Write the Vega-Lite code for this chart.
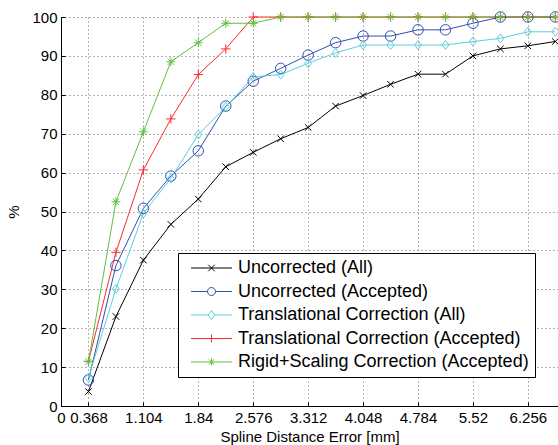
{
  "$schema": "https://vega.github.io/schema/vega-lite/v6.json",
  "autosize": "none",
  "padding": {"left": 61, "top": 17, "right": 0, "bottom": 39},
  "width": 497,
  "height": 389,
  "background": "white",
  "config": {
    "font": "Liberation Sans",
    "view": {"stroke": null},
    "axis": {
      "labelFont": "Liberation Sans",
      "labelFontSize": 15,
      "labelColor": "#000",
      "labelFlush": false,
      "labelOverlap": false,
      "titleFont": "Liberation Sans",
      "titleFontSize": 15,
      "titleFontWeight": "normal",
      "titleColor": "#000",
      "domainColor": "#000",
      "domainWidth": 1,
      "tickColor": "#000",
      "tickSize": -4,
      "labelPadding": 8,
      "grid": true,
      "gridColor": "#666",
      "gridDash": [1, 3],
      "gridWidth": 1
    }
  },
  "data": {
    "values": [
      {"x": 0.368, "y": 3.7, "s": "Uncorrected (All)"},
      {"x": 0.736, "y": 23.0, "s": "Uncorrected (All)"},
      {"x": 1.104, "y": 37.5, "s": "Uncorrected (All)"},
      {"x": 1.472, "y": 46.7, "s": "Uncorrected (All)"},
      {"x": 1.84, "y": 53.2, "s": "Uncorrected (All)"},
      {"x": 2.208, "y": 61.5, "s": "Uncorrected (All)"},
      {"x": 2.576, "y": 65.2, "s": "Uncorrected (All)"},
      {"x": 2.944, "y": 68.7, "s": "Uncorrected (All)"},
      {"x": 3.312, "y": 71.6, "s": "Uncorrected (All)"},
      {"x": 3.68, "y": 77.1, "s": "Uncorrected (All)"},
      {"x": 4.048, "y": 79.8, "s": "Uncorrected (All)"},
      {"x": 4.416, "y": 82.7, "s": "Uncorrected (All)"},
      {"x": 4.784, "y": 85.3, "s": "Uncorrected (All)"},
      {"x": 5.152, "y": 85.3, "s": "Uncorrected (All)"},
      {"x": 5.52, "y": 90.0, "s": "Uncorrected (All)"},
      {"x": 5.888, "y": 91.8, "s": "Uncorrected (All)"},
      {"x": 6.256, "y": 92.6, "s": "Uncorrected (All)"},
      {"x": 6.624, "y": 93.7, "s": "Uncorrected (All)"},
      {"x": 0.368, "y": 6.7, "s": "Uncorrected (Accepted)"},
      {"x": 0.736, "y": 36.1, "s": "Uncorrected (Accepted)"},
      {"x": 1.104, "y": 50.8, "s": "Uncorrected (Accepted)"},
      {"x": 1.472, "y": 59.1, "s": "Uncorrected (Accepted)"},
      {"x": 1.84, "y": 65.6, "s": "Uncorrected (Accepted)"},
      {"x": 2.208, "y": 77.1, "s": "Uncorrected (Accepted)"},
      {"x": 2.576, "y": 83.5, "s": "Uncorrected (Accepted)"},
      {"x": 2.944, "y": 86.8, "s": "Uncorrected (Accepted)"},
      {"x": 3.312, "y": 90.2, "s": "Uncorrected (Accepted)"},
      {"x": 3.68, "y": 93.4, "s": "Uncorrected (Accepted)"},
      {"x": 4.048, "y": 95.1, "s": "Uncorrected (Accepted)"},
      {"x": 4.416, "y": 95.1, "s": "Uncorrected (Accepted)"},
      {"x": 4.784, "y": 96.7, "s": "Uncorrected (Accepted)"},
      {"x": 5.152, "y": 96.7, "s": "Uncorrected (Accepted)"},
      {"x": 5.52, "y": 98.4, "s": "Uncorrected (Accepted)"},
      {"x": 5.888, "y": 100, "s": "Uncorrected (Accepted)"},
      {"x": 6.256, "y": 100, "s": "Uncorrected (Accepted)"},
      {"x": 6.624, "y": 100, "s": "Uncorrected (Accepted)"},
      {"x": 0.368, "y": 7.3, "s": "Translational Correction (All)"},
      {"x": 0.736, "y": 30.1, "s": "Translational Correction (All)"},
      {"x": 1.104, "y": 49.5, "s": "Translational Correction (All)"},
      {"x": 1.472, "y": 58.5, "s": "Translational Correction (All)"},
      {"x": 1.84, "y": 69.8, "s": "Translational Correction (All)"},
      {"x": 2.208, "y": 76.9, "s": "Translational Correction (All)"},
      {"x": 2.576, "y": 84.6, "s": "Translational Correction (All)"},
      {"x": 2.944, "y": 85.2, "s": "Translational Correction (All)"},
      {"x": 3.312, "y": 88.1, "s": "Translational Correction (All)"},
      {"x": 3.68, "y": 90.8, "s": "Translational Correction (All)"},
      {"x": 4.048, "y": 92.8, "s": "Translational Correction (All)"},
      {"x": 4.416, "y": 92.8, "s": "Translational Correction (All)"},
      {"x": 4.784, "y": 92.8, "s": "Translational Correction (All)"},
      {"x": 5.152, "y": 92.8, "s": "Translational Correction (All)"},
      {"x": 5.52, "y": 93.7, "s": "Translational Correction (All)"},
      {"x": 5.888, "y": 94.5, "s": "Translational Correction (All)"},
      {"x": 6.256, "y": 96.2, "s": "Translational Correction (All)"},
      {"x": 6.624, "y": 96.2, "s": "Translational Correction (All)"},
      {"x": 0.368, "y": 11.5, "s": "Translational Correction (Accepted)"},
      {"x": 0.736, "y": 39.5, "s": "Translational Correction (Accepted)"},
      {"x": 1.104, "y": 60.7, "s": "Translational Correction (Accepted)"},
      {"x": 1.472, "y": 73.8, "s": "Translational Correction (Accepted)"},
      {"x": 1.84, "y": 85.2, "s": "Translational Correction (Accepted)"},
      {"x": 2.208, "y": 91.8, "s": "Translational Correction (Accepted)"},
      {"x": 2.576, "y": 100, "s": "Translational Correction (Accepted)"},
      {"x": 2.944, "y": 100, "s": "Translational Correction (Accepted)"},
      {"x": 3.312, "y": 100, "s": "Translational Correction (Accepted)"},
      {"x": 3.68, "y": 100, "s": "Translational Correction (Accepted)"},
      {"x": 4.048, "y": 100, "s": "Translational Correction (Accepted)"},
      {"x": 4.416, "y": 100, "s": "Translational Correction (Accepted)"},
      {"x": 4.784, "y": 100, "s": "Translational Correction (Accepted)"},
      {"x": 5.152, "y": 100, "s": "Translational Correction (Accepted)"},
      {"x": 5.52, "y": 100, "s": "Translational Correction (Accepted)"},
      {"x": 5.888, "y": 100, "s": "Translational Correction (Accepted)"},
      {"x": 6.256, "y": 100, "s": "Translational Correction (Accepted)"},
      {"x": 6.624, "y": 100, "s": "Translational Correction (Accepted)"},
      {"x": 0.368, "y": 11.4, "s": "Rigid+Scaling Correction (Accepted)"},
      {"x": 0.736, "y": 52.5, "s": "Rigid+Scaling Correction (Accepted)"},
      {"x": 1.104, "y": 70.5, "s": "Rigid+Scaling Correction (Accepted)"},
      {"x": 1.472, "y": 88.5, "s": "Rigid+Scaling Correction (Accepted)"},
      {"x": 1.84, "y": 93.4, "s": "Rigid+Scaling Correction (Accepted)"},
      {"x": 2.208, "y": 98.4, "s": "Rigid+Scaling Correction (Accepted)"},
      {"x": 2.576, "y": 98.4, "s": "Rigid+Scaling Correction (Accepted)"},
      {"x": 2.944, "y": 100, "s": "Rigid+Scaling Correction (Accepted)"},
      {"x": 3.312, "y": 100, "s": "Rigid+Scaling Correction (Accepted)"},
      {"x": 3.68, "y": 100, "s": "Rigid+Scaling Correction (Accepted)"},
      {"x": 4.048, "y": 100, "s": "Rigid+Scaling Correction (Accepted)"},
      {"x": 4.416, "y": 100, "s": "Rigid+Scaling Correction (Accepted)"},
      {"x": 4.784, "y": 100, "s": "Rigid+Scaling Correction (Accepted)"},
      {"x": 5.152, "y": 100, "s": "Rigid+Scaling Correction (Accepted)"},
      {"x": 5.52, "y": 100, "s": "Rigid+Scaling Correction (Accepted)"},
      {"x": 5.888, "y": 100, "s": "Rigid+Scaling Correction (Accepted)"},
      {"x": 6.256, "y": 100, "s": "Rigid+Scaling Correction (Accepted)"},
      {"x": 6.624, "y": 100, "s": "Rigid+Scaling Correction (Accepted)"}
    ]
  },
  "encoding": {
    "x": {
      "field": "x", "type": "quantitative",
      "scale": {"domain": [0, 6.66], "nice": false, "zero": false},
      "axis": {
        "values": [0, 0.368, 1.104, 1.84, 2.576, 3.312, 4.048, 4.784, 5.52, 6.256],
        "format": ".4~g",
        "title": "Spline Distance Error [mm]",
        "titlePadding": 4
      }
    },
    "y": {
      "field": "y", "type": "quantitative",
      "scale": {"domain": [0, 100], "nice": false},
      "axis": {
        "values": [0, 10, 20, 30, 40, 50, 60, 70, 80, 90, 100],
        "format": "d",
        "title": "%",
        "titlePadding": 10
      }
    }
  },
  "layer": [
    {
      "mark": {"type": "line", "strokeWidth": 1},
      "encoding": {
        "color": {
          "field": "s", "type": "nominal", "legend": null,
          "scale": {
            "domain": ["Uncorrected (All)", "Uncorrected (Accepted)", "Translational Correction (All)", "Translational Correction (Accepted)", "Rigid+Scaling Correction (Accepted)"],
            "range": ["#000000", "#3050b0", "#5ccfdc", "#ff2a2a", "#5fbf3f"]
          }
        },
        "order": {"field": "x", "type": "quantitative"}
      }
    },
    {
      "mark": {"type": "point", "filled": false, "strokeWidth": 1, "size": 110, "opacity": 1},
      "encoding": {
        "color": {
          "field": "s", "type": "nominal", "legend": null,
          "scale": {
            "domain": ["Uncorrected (All)", "Uncorrected (Accepted)", "Translational Correction (All)", "Translational Correction (Accepted)", "Rigid+Scaling Correction (Accepted)"],
            "range": ["#000000", "#3050b0", "#5ccfdc", "#ff2a2a", "#5fbf3f"]
          }
        },
        "shape": {
          "field": "s", "type": "nominal", "legend": null,
          "scale": {
            "domain": ["Uncorrected (All)", "Uncorrected (Accepted)", "Translational Correction (All)", "Translational Correction (Accepted)", "Rigid+Scaling Correction (Accepted)"],
            "range": [
              "M-0.62,-0.62L0.62,0.62M-0.62,0.62L0.62,-0.62",
              "circle",
              "M0,-0.85L0.66,0L0,0.85L-0.66,0Z",
              "M-0.9,0H0.9M0,-0.9V0.9",
              "M-0.85,0H0.85M0,-0.85V0.85M-0.6,-0.6L0.6,0.6M-0.6,0.6L0.6,-0.6"
            ]
          }
        }
      }
    },
    {
      "transform": [{"filter": "datum.x < 0"}],
      "mark": {"type": "point", "filled": false, "strokeWidth": 1, "size": 100, "opacity": 1},
      "encoding": {
        "color": {
          "field": "s", "type": "nominal",
          "scale": {
            "domain": ["Uncorrected (All)", "Uncorrected (Accepted)", "Translational Correction (All)", "Translational Correction (Accepted)", "Rigid+Scaling Correction (Accepted)"],
            "range": ["#000000", "#3050b0", "#5ccfdc", "#ff2a2a", "#5fbf3f"]
          },
          "legend": {
            "title": null, "orient": "none", "legendX": 117, "legendY": 236,
            "padding": 6, "strokeColor": "#000", "fillColor": "white",
            "labelFont": "Liberation Sans", "labelFontSize": 18, "labelColor": "#000",
            "symbolSize": 100, "symbolStrokeWidth": 1, "symbolOpacity": 1,
            "labelOffset": 36, "rowPadding": 5.5, "labelLimit": 400
          }
        },
        "shape": {
          "field": "s", "type": "nominal",
          "scale": {
            "domain": ["Uncorrected (All)", "Uncorrected (Accepted)", "Translational Correction (All)", "Translational Correction (Accepted)", "Rigid+Scaling Correction (Accepted)"],
            "range": [
              "M-0.4,0H7.8M3.05,-0.65L4.35,0.65M3.05,0.65L4.35,-0.65",
              "M-0.4,0H2.9M4.5,0H7.8M2.9,0A0.8,0.8,0,1,1,4.5,0A0.8,0.8,0,1,1,2.9,0Z",
              "M-0.4,0H3.05M4.35,0H7.8M3.7,-0.9L4.35,0L3.7,0.9L3.05,0Z",
              "M-0.4,0H7.8M3.7,-0.8V0.8",
              "M-0.4,0H7.8M3.7,-0.7V0.7M3.2,-0.5L4.2,0.5M3.2,0.5L4.2,-0.5"
            ]
          },
          "legend": {
            "title": null, "orient": "none", "legendX": 117, "legendY": 236,
            "padding": 6, "strokeColor": "#000", "fillColor": "white",
            "labelFont": "Liberation Sans", "labelFontSize": 18, "labelColor": "#000",
            "symbolSize": 100, "symbolStrokeWidth": 1, "symbolOpacity": 1,
            "labelOffset": 36, "rowPadding": 5.5, "labelLimit": 400
          }
        }
      }
    }
  ],
  "resolve": {"scale": {"color": "independent", "shape": "independent"}}
}
